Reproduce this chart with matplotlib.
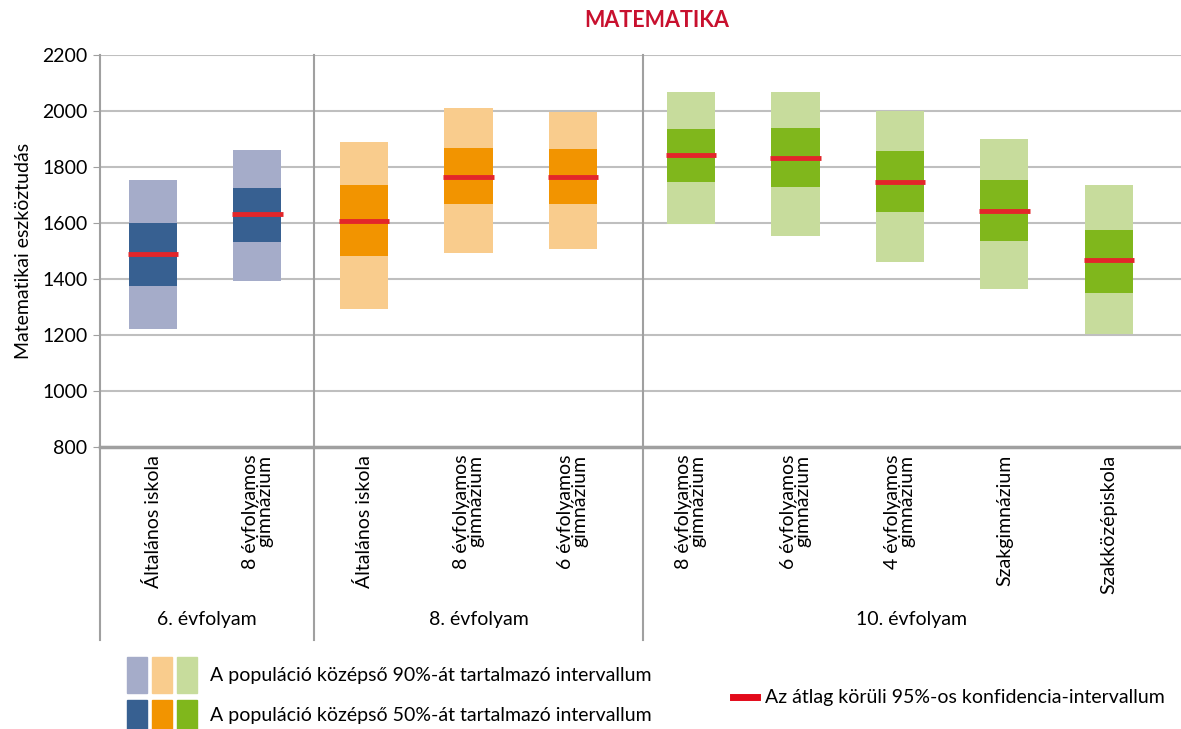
import matplotlib
matplotlib.use("Agg")
import matplotlib.pyplot as plt
from matplotlib.patches import Rectangle
from matplotlib.lines import Line2D
import matplotlib.transforms as mtransforms

plt.rcParams['font.family'] = ['Lato', 'DejaVu Sans']

# categories and groups
categories = ["Általános iskola", "8 évfolyamos\ngimnázium",
              "Általános iskola", "8 évfolyamos\ngimnázium", "6 évfolyamos\ngimnázium",
              "8 évfolyamos\ngimnázium", "6 évfolyamos\ngimnázium", "4 évfolyamos\ngimnázium",
              "Szakgimnázium", "Szakközépiskola"]
groups = ["6. évfolyam", "8. évfolyam", "10. évfolyam"]
group_sizes = [2, 3, 5]

# percentiles
p05 = [1223, 1394, 1294, 1494, 1508, 1598, 1555, 1459, 1366, 1204]
p25 = [1375, 1532, 1482, 1668, 1668, 1746, 1729, 1639, 1536, 1350]
p75 = [1600, 1725, 1736, 1868, 1864, 1936, 1939, 1857, 1754, 1575]
p95 = [1754, 1861, 1889, 2011, 1998, 2068, 2068, 2000, 1900, 1736]
means = [1489, 1632, 1608, 1765, 1765, 1842, 1832, 1748, 1644, 1468]

light_cols = ["#a5acc9", "#f9cc8d", "#c7dc9c"]
dark_cols = ["#376091", "#f29400", "#80b71c"]
red = "#e3262a"

fs = 14

fig = plt.figure(figsize=(11.81, 7.29), dpi=100)
ax = fig.add_axes([100 / 1181, (729 - 447) / 729, 1081 / 1181, 392 / 729])

# slight extra spacing per group
group_shift = [0.0, 0.02, 0.15]
gidx = []
for g, n in enumerate(group_sizes):
    gidx += [g] * n
x = [i + group_shift[gidx[i]] for i in range(len(categories))]

w = 0.46
for i, xi in enumerate(x):
    g = gidx[i]
    ax.bar(xi, p95[i] - p05[i], bottom=p05[i], width=w, color=light_cols[g], zorder=2)
    ax.bar(xi, p75[i] - p25[i], bottom=p25[i], width=w, color=dark_cols[g], zorder=3)
    ax.hlines(means[i], xi - w / 2 - 0.01, xi + w / 2 + 0.01, color=red, lw=3.5, zorder=4)

ax.set_xlim(-0.507, 9.84)
ax.set_ylim(800, 2200)
ax.set_yticks(range(800, 2201, 200))
ax.tick_params(axis='y', labelsize=fs, length=5, color="#a0a0a0", pad=4)
ax.set_xticks([])
ax.grid(axis='y', color="#bfbfbf", lw=1.5, zorder=0)
for s in ["top", "right"]:
    ax.spines[s].set_visible(False)
ax.spines["left"].set_color("#a0a0a0")
ax.spines["left"].set_linewidth(1.5)
ax.spines["bottom"].set_color("#a0a0a0")
ax.spines["bottom"].set_linewidth(2.5)
ax.set_ylabel("Matematikai eszköztudás", fontsize=fs, labelpad=7)

trans = mtransforms.blended_transform_factory(ax.transData, ax.transAxes)
# category labels
for xi, lab in zip(x, categories):
    ax.text(xi, -0.02, lab, rotation=90, ha='center', va='top', fontsize=fs,
            multialignment='right', transform=trans, clip_on=False,
            linespacing=0.82)

# group separators and group labels
bounds = [-0.507, 1.54, 4.69, 9.84]
for b in bounds[1:-1]:
    ax.add_line(Line2D([b, b], [-0.492, 1.0], transform=trans, color="#a0a0a0",
                       lw=1.5, clip_on=False, zorder=5))
ax.add_line(Line2D([bounds[0], bounds[0]], [-0.492, 0.0], transform=trans,
                   color="#a0a0a0", lw=1.5, clip_on=False, zorder=5))
for g, name in enumerate(groups):
    ax.text((bounds[g] + bounds[g + 1]) / 2, -0.441, name, ha='center', va='center',
            fontsize=fs, transform=trans, clip_on=False)

fig.text(657 / 1181, 0.972, "MATEMATIKA", color="#c8102e", fontsize=15.5,
         fontweight='bold', ha='center', va='center')

# legend
H = 729.0
W = 1181.0
for k in range(3):
    x0 = 127 + k * 25
    fig.patches.append(Rectangle((x0 / W, (H - 693) / H), 20 / W, 36 / H,
                                 color=light_cols[k], transform=fig.transFigure))
    fig.patches.append(Rectangle((x0 / W, (H - 731) / H), 20 / W, 31 / H,
                                 color=dark_cols[k], transform=fig.transFigure))
fig.text(210 / W, 1 - 675 / H, "A populáció középső 90%-át tartalmazó intervallum",
         fontsize=fs, va='center')
fig.text(210 / W, 1 - 716 / H, "A populáció középső 50%-át tartalmazó intervallum",
         fontsize=fs, va='center')
fig.add_artist(Line2D([733 / W, 757 / W], [1 - 697 / H, 1 - 697 / H], color="#e30a1a",
                      lw=5, transform=fig.transFigure))
fig.text(765 / W, 1 - 697 / H, "Az átlag körüli 95%-os konfidencia-intervallum",
         fontsize=fs, va='center')

fig.savefig("out.png", dpi=100)
